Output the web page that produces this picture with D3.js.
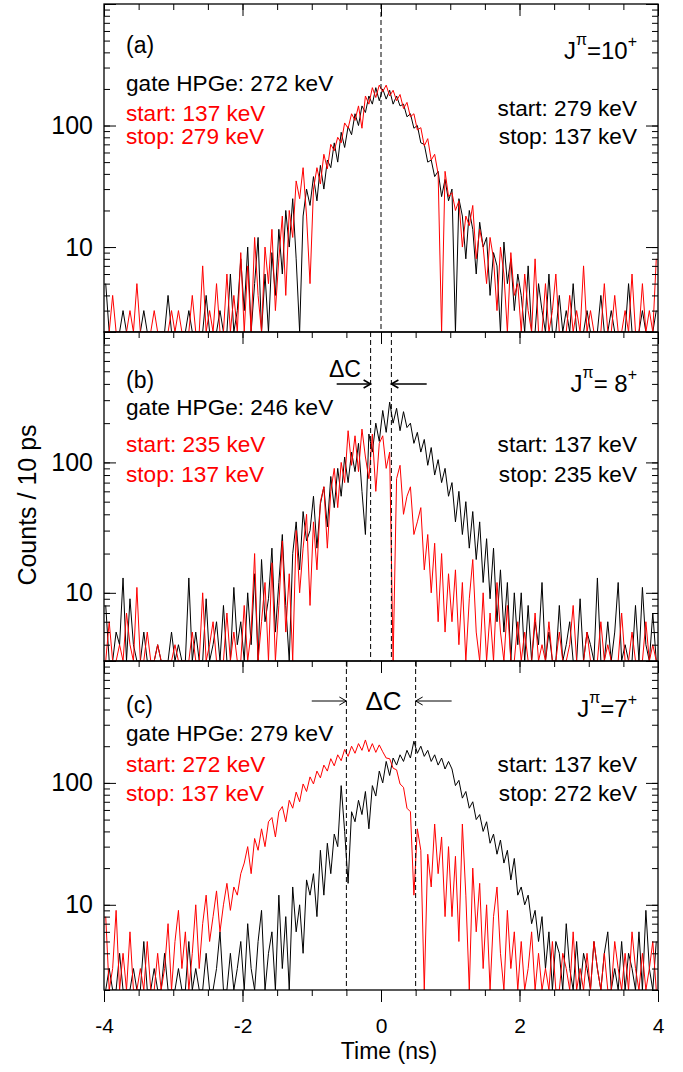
<!DOCTYPE html>
<html>
<head>
<meta charset="utf-8">
<script src="https://cdn.jsdelivr.net/npm/d3@7/dist/d3.min.js"></script>
<style>
  body { margin: 0; background: #fff; }
  svg text { font-family: "Liberation Sans", Arial, Helvetica, sans-serif; }
</style>
</head>
<body>
<div id="chart"></div>
<script>
// Time spectra, 50 ps sampling of the 10 ps histograms, t from -4 to 4 ns
const tStart = -4, tStep = 0.05;

// (a) J=10+
const aBlack = [
  5,0,2,0,0,3,0,0,2,0,0,3,0,0,0,2,0,0,4,0,
  0,2,0,0,3,0,0,2,0,4,0,0,2,3,0,0,6,0,3,8,
  3,10,0,5,12,2,6,0,9,4,14,6,20,10,25,8,0,18,30,22,
  38,24,47,30,52,45,72,50,88,66,98,84,125,100,145,128,175,150,205,160,
  200,165,195,150,175,145,150,118,125,95,100,72,70,50,52,38,42,26,36,24,
  30,0,25,18,8,20,14,6,16,10,12,4,9,7,0,11,5,8,3,6,
  4,0,7,2,0,5,3,0,6,0,2,4,0,3,0,5,0,2,0,3,
  0,2,0,4,0,0,3,0,2,0,0,5,0,2,0,3,0,0,2,3
];
const aRed = [
  2,0,4,0,2,0,0,3,0,5,0,2,0,0,3,0,0,2,0,3,
  0,3,0,2,0,4,0,0,7,0,3,0,5,2,0,6,0,4,2,9,
  2,7,0,12,4,0,10,5,14,3,8,18,4,20,12,35,25,45,18,5,
  30,45,33,58,44,70,62,80,72,105,95,125,110,145,95,175,150,205,170,215,
  190,215,175,195,160,180,138,155,118,125,92,96,68,78,52,58,40,0,42,26,
  28,20,24,10,18,15,22,8,14,10,5,12,8,3,10,6,2,9,4,5,
  0,6,3,0,8,2,0,5,0,3,6,0,2,0,4,0,3,0,7,0,
  3,0,2,0,5,0,0,4,2,0,3,0,6,0,2,5,0,3,0,8
];

// (b) J=8+
const bBlack = [
  8,3,0,5,4,13,0,9,4,0,3,5,0,3,0,4,0,3,0,5,
  0,4,0,3,13,0,5,3,0,9,0,4,6,0,8,3,0,11,4,6,
  0,10,4,14,0,18,6,9,22,5,12,28,8,0,20,35,15,42,25,30,
  55,22,48,65,32,78,45,90,55,110,70,120,85,140,60,28,165,120,200,145,
  250,170,290,200,260,175,245,185,200,140,170,120,150,95,130,80,105,70,90,55,
  70,35,60,28,50,22,42,18,35,12,26,9,22,6,15,5,12,3,10,4,
  10,3,8,0,6,4,12,0,5,3,0,8,0,4,6,0,3,9,0,5,
  4,0,13,3,0,6,0,5,12,0,4,3,0,8,0,11,4,0,7,0
];
const bRed = [
  0,6,3,0,4,0,7,4,0,11,3,0,5,0,0,4,0,3,0,0,
  4,0,3,0,0,5,3,0,10,0,4,6,0,3,0,7,0,5,3,0,
  8,0,5,20,0,6,12,3,17,0,8,25,5,14,0,30,10,22,40,8,
  35,15,50,65,22,60,90,45,100,70,175,95,160,85,180,110,75,165,60,140,
  160,90,120,0,75,95,40,55,65,28,35,45,15,28,10,24,6,20,5,14,
  6,15,4,12,0,9,18,5,0,10,3,7,0,12,5,0,8,3,0,6,
  0,5,3,0,7,0,4,0,6,3,0,5,0,0,4,8,0,3,0,5,
  3,0,0,6,0,4,0,3,0,7,0,0,5,0,3,0,6,0,4,3
];

// (c) J=7+
const cBlack = [
  0,3,0,0,4,0,2,0,3,0,0,5,0,0,3,0,0,4,0,2,
  0,3,0,0,5,0,3,0,0,4,0,0,3,6,0,0,4,0,3,5,
  0,7,3,0,5,9,0,4,6,0,12,3,8,0,14,6,10,4,16,12,
  18,8,28,12,32,18,38,30,95,40,15,58,48,72,55,85,42,95,78,125,
  100,150,115,160,140,170,150,185,160,220,175,200,165,185,150,170,140,160,130,150,
  130,95,105,75,85,62,70,50,55,40,48,32,38,26,34,22,28,16,24,12,
  14,10,12,7,9,5,8,3,6,0,5,4,0,7,3,0,5,0,4,3,
  0,5,3,0,4,6,0,3,0,5,0,4,3,0,6,0,9,3,0,5
];
const cRed = [
  8,0,3,9,0,4,0,6,2,0,3,0,5,0,0,4,0,3,7,0,
  5,9,3,6,0,4,10,3,7,12,5,8,13,6,10,15,9,14,12,18,
  22,30,18,35,28,42,30,48,52,36,58,64,48,72,62,84,70,98,85,112,
  98,125,110,140,125,158,138,170,152,188,165,200,175,210,185,225,180,210,178,205,
  180,160,158,132,128,98,92,62,58,12,42,28,0,26,14,46,18,36,8,30,
  8,25,5,46,12,0,20,6,15,3,10,0,8,14,4,0,9,3,6,0,
  5,0,3,6,0,4,0,3,0,5,0,0,4,3,0,6,0,3,0,4,
  0,5,3,0,4,0,0,5,3,0,4,0,6,3,0,4,0,3,5,0
];

// labels
const panelTags = ["(a)", "(b)", "(c)"];
const spinValues = ["10", " 8", "7"];
const gateLabels = ["gate HPGe: 272 keV", "gate HPGe: 246 keV", "gate HPGe: 279 keV"];
const redLabels = [["start: 137 keV", "stop: 279 keV"], ["start: 235 keV", "stop: 137 keV"], ["start: 272 keV", "stop: 137 keV"]];
const blackLabels = [["start: 279 keV", "stop: 137 keV"], ["start: 137 keV", "stop: 235 keV"], ["start: 137 keV", "stop: 272 keV"]];
const yDomains = [[2, 1000], [3, 1000], [2, 1000]];
const markerLines = [[0], [-0.15, 0.15], [-0.5, 0.5]];
const xMajorTicks = [-4, -2, 0, 2, 4];
const yLabelTicks = [10, 100];

const width = 683, height = 1072;
const left = 104, right = 658;
const panelEdges = [4, 332, 661, 990];

const svg = d3.select("#chart").append("svg")
  .attr("width", width).attr("height", height)
  .attr("viewBox", [0, 0, width, height]);

const x = d3.scaleLinear().domain([-4, 4]).range([left, right]);
const xMinor = d3.range(-4, 4.001, 0.5);

const series = [[aBlack, aRed], [bBlack, bRed], [cBlack, cRed]];

series.forEach(([blk, red], p) => {
  const top = panelEdges[p], bottom = panelEdges[p + 1];
  const [yMin, yMax] = yDomains[p];
  const y = d3.scaleLog().domain([yMin, yMax]).range([bottom, top]);
  const g = svg.append("g");

  g.append("clipPath").attr("id", `clip${p}`)
    .append("rect").attr("x", left).attr("y", top)
    .attr("width", right - left).attr("height", bottom - top);

  const line = d3.line()
    .x((d, i) => x(tStart + tStep * (i + 0.5)))
    .y(d => y(Math.max(d, yMin)));

  for (const [data, color] of [[blk, "#000"], [red, "#ff0000"]]) {
    g.append("path").datum(data)
      .attr("clip-path", `url(#clip${p})`)
      .attr("fill", "none").attr("stroke", color).attr("stroke-width", 1)
      .attr("d", line);
  }

  // dashed markers
  for (const t of markerLines[p]) {
    g.append("line")
      .attr("x1", x(t)).attr("x2", x(t)).attr("y1", top).attr("y2", bottom)
      .attr("stroke", "#000").attr("stroke-width", 1).attr("stroke-dasharray", "5,3");
  }

  // y ticks, left (inside) and right (inside)
  const yMinorTicks = y.ticks().filter(v => v >= yMin && v <= yMax);
  const yMajor = yMinorTicks.filter(v => Math.abs(Math.log10(v) - Math.round(Math.log10(v))) < 1e-9);
  const ax = [
    [d3.axisRight(y).tickValues(yMinorTicks).tickSize(6), left],
    [d3.axisRight(y).tickValues(yMajor).tickSize(12), left],
    [d3.axisLeft(y).tickValues(yMinorTicks).tickSize(6), right],
    [d3.axisLeft(y).tickValues(yMajor).tickSize(12), right],
  ];
  for (const [a, pos] of ax) {
    g.append("g").attr("transform", `translate(${pos},0)`)
      .call(a.tickFormat(""))
      .call(s => s.select(".domain").remove())
      .call(s => s.selectAll("line").attr("stroke-width", 1));
  }
  g.append("g").attr("transform", `translate(${left},0)`)
    .call(d3.axisLeft(y).tickValues(yLabelTicks).tickSize(0).tickPadding(11).tickFormat(d3.format("d")))
    .call(s => s.select(".domain").remove())
    .call(s => s.selectAll("text").attr("font-size", 25).attr("fill", "#000")
      .attr("font-family", "Liberation Sans, Arial, sans-serif"));

  // x ticks pointing down at the top edge of each panel
  g.append("g").attr("transform", `translate(0,${top})`)
    .call(d3.axisBottom(x).tickValues(xMinor).tickSize(6).tickFormat(""))
    .call(s => s.select(".domain").remove());
  g.append("g").attr("transform", `translate(0,${top})`)
    .call(d3.axisBottom(x).tickValues(xMajorTicks).tickSize(12).tickFormat(""))
    .call(s => s.select(".domain").remove());

  // frame
  g.append("rect").attr("x", left).attr("y", top)
    .attr("width", right - left).attr("height", bottom - top)
    .attr("fill", "none").attr("stroke", "#000").attr("stroke-width", 1.3);
});

// bottom axis of the last panel, ticks outward
const bottomY = panelEdges[3];
svg.append("g").attr("transform", `translate(0,${bottomY})`)
  .call(d3.axisBottom(x).tickValues(xMinor).tickSize(6).tickFormat(""))
  .call(s => s.select(".domain").remove());
svg.append("g").attr("transform", `translate(0,${bottomY})`)
  .call(d3.axisBottom(x).tickValues(xMajorTicks).tickSize(12).tickPadding(16).tickFormat(d3.format("d")))
  .call(s => s.select(".domain").remove())
  .call(s => s.selectAll("text").attr("font-size", 21).attr("fill", "#000")
    .attr("font-family", "Liberation Sans, Arial, sans-serif")
    .text(d => d < 0 ? "-" + Math.abs(d) : d));

svg.append("text").attr("x", 389).attr("y", 1059)
  .attr("text-anchor", "middle").attr("font-size", 23).text("Time (ns)");
svg.append("text").attr("transform", "translate(36,505) rotate(-90)")
  .attr("text-anchor", "middle").attr("font-size", 25).text("Counts / 10 ps");

// annotations
const tagY = [53, 388, 713];
const spinY = [59, 392, 717];
const gateY = [91, 415, 741];
const line1Y = [121, 452, 772];
const line2Y = [144, 482, 801];
const rline1Y = [116, 452, 772];
const rline2Y = [144, 482, 801];

for (let p = 0; p < 3; p++) {
  svg.append("text").attr("x", 126).attr("y", tagY[p]).attr("font-size", 23).text(panelTags[p]);
  svg.append("text").attr("x", 126).attr("y", gateY[p]).attr("font-size", 22.6).text(gateLabels[p]);
  svg.append("text").attr("x", 126).attr("y", line1Y[p]).attr("font-size", 22.6).attr("fill", "#ff0000").text(redLabels[p][0]);
  svg.append("text").attr("x", 126).attr("y", line2Y[p]).attr("font-size", 22.6).attr("fill", "#ff0000").text(redLabels[p][1]);
  svg.append("text").attr("x", 637).attr("y", rline1Y[p]).attr("text-anchor", "end").attr("font-size", 22.6).text(blackLabels[p][0]);
  svg.append("text").attr("x", 637).attr("y", rline2Y[p]).attr("text-anchor", "end").attr("font-size", 22.6).text(blackLabels[p][1]);

  const sp = svg.append("text").attr("x", 637).attr("y", spinY[p]).attr("text-anchor", "end").attr("font-size", 24);
  sp.append("tspan").text("J");
  sp.append("tspan").attr("dy", -14).attr("font-size", 16).text("π");
  sp.append("tspan").attr("dy", 14).text("=" + spinValues[p]);
  sp.append("tspan").attr("dy", -12).attr("font-size", 16).text("+");
}

// ΔC arrows
const arrows = [
  {p: 1, y: 384, from: [-0.64, 0.66], to: [-0.15, 0.15], label: 345, ly: 377, size: 23, w: 1.6},
  {p: 2, y: 701, from: [-1.0, 1.02], to: [-0.5, 0.5], label: 383.5, ly: 710, size: 26, w: 1},
];
for (const a of arrows) {
  for (let k = 0; k < 2; k++) {
    const x0 = x(a.from[k]), x1 = x(a.to[k]);
    const dir = Math.sign(x1 - x0);
    svg.append("line").attr("x1", x0).attr("x2", x1).attr("y1", a.y).attr("y2", a.y)
      .attr("stroke", "#000").attr("stroke-width", a.w);
    svg.append("path")
      .attr("d", `M${x1 - dir * 7},${a.y - 4}L${x1},${a.y}L${x1 - dir * 7},${a.y + 4}`)
      .attr("fill", "none").attr("stroke", "#000").attr("stroke-width", a.w);
  }
  svg.append("text").attr("x", a.label).attr("y", a.ly).attr("text-anchor", "middle")
    .attr("font-size", a.size).text("ΔC");
}
</script>
</body>
</html>
